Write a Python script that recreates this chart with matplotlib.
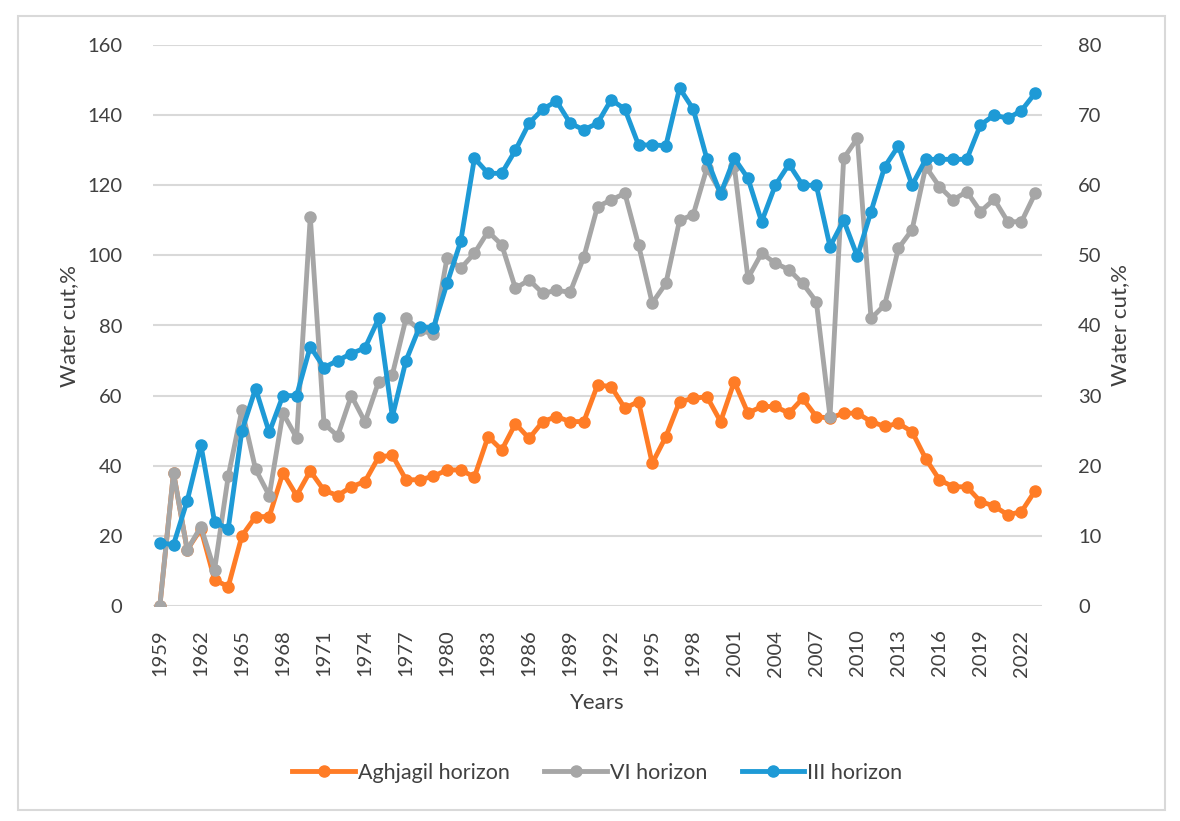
import matplotlib
matplotlib.use("Agg")
from matplotlib import pyplot as plt
from matplotlib.patches import Rectangle

years = list(range(1959, 2024))

aghjagil = [0, 38, 16, 22, 7.5, 5.5, 20, 25.5, 25.5, 38, 31.5, 38.5, 33, 31.5,
            34, 35.5, 42.5, 43, 36, 36, 37, 38.8, 38.8, 36.8, 48.3, 44.5, 52,
            47.8, 52.6, 54, 52.6, 52.6, 63, 62.6, 56.4, 58.3, 40.7, 48.3, 58.3,
            59.2, 59.7, 52.6, 64, 55, 56.9, 56.9, 55, 59.2, 54, 53.6, 55, 55,
            52.6, 51.2, 52.1, 49.7, 42, 36, 34, 34, 29.8, 28.5, 26, 26.9, 32.9]

vi_hor = [0, 38, 16, 22.6, 10.3, 37, 56, 39, 31.5, 55, 48, 111, 52, 48.5, 60,
          52.5, 64, 66, 82, 78.7, 77.5, 99.3, 96.3, 100.6, 106.8, 103, 90.6,
          93, 89.2, 90, 89.5, 99.5, 113.9, 115.8, 117.7, 103, 86.4, 92, 110,
          111.6, 124.9, 118, 125.5, 93.5, 100.6, 97.8, 95.9, 92, 86.8, 54,
          127.7, 133.4, 82, 85.9, 102, 107.3, 125.3, 119.6, 115.8, 118.2,
          112.5, 116, 109.6, 109.6, 117.7]

iii_hor = [18, 17.5, 30, 46, 24, 22, 50, 62, 49.5, 60, 60, 74, 68, 70, 72,
           73.6, 82, 54, 70, 79.7, 79.3, 92, 104, 127.7, 123.4, 123.4, 130,
           137.7, 141.7, 144, 137.7, 135.8, 137.7, 144.4, 141.7, 131.5, 131.5,
           131.3, 147.7, 141.7, 127.5, 117.5, 127.7, 122, 109.6, 120, 126, 120,
           120, 102.5, 110, 99.7, 112.5, 125.3, 131.2, 120, 127.4, 127.4,
           127.4, 127.4, 137.2, 140, 139.1, 141.3, 146.3]

plt.rcParams['font.family'] = ['Lato', 'DejaVu Sans']
txt = "#404040"

fig = plt.figure(figsize=(11.8, 8.21), dpi=100)
fig.patches.append(Rectangle((18 / 1180, 1 - 810 / 821), 1147 / 1180, 794 / 821,
                             transform=fig.transFigure, fill=False,
                             edgecolor="#D9D9D9", linewidth=1.5))
ax = fig.add_axes([153 / 1180, 1 - 606 / 821, 889 / 1180, 561 / 821])

ax.plot(years, aghjagil, color="#FF7C26", lw=3.5, marker="o", ms=8,
        label="Aghjagil horizon", zorder=3)
ax.plot(years, vi_hor, color="#A6A6A6", lw=3.5, marker="o", ms=8,
        label="VI horizon", zorder=4)
ax.plot(years, iii_hor, color="#1E9AD6", lw=3.5, marker="o", ms=8,
        label="III horizon", zorder=5)

ax.set_xlim(1958.5, 2023.5)
ax.set_ylim(0, 160)
ax.set_yticks(range(0, 161, 20))
ax.set_xticks(years[::3])
ax.set_xticklabels([str(y) for y in years[::3]], rotation=90)
ax.grid(axis="y", color="#D9D9D9", lw=1.5)
ax.set_axisbelow(True)
for s in ax.spines.values():
    s.set_visible(False)
ax.tick_params(axis="y", length=0, labelsize=14.5, colors=txt, pad=22)
ax.tick_params(axis="x", length=0, labelsize=14.5, colors=txt, pad=17)
ax.set_xlabel("Years", fontsize=16, color=txt, labelpad=12)
ax.set_ylabel("Water cut,%", fontsize=16, color=txt, labelpad=6)

ax2 = ax.twinx()
ax2.set_ylim(0, 80)
ax2.set_yticks(range(0, 81, 10))
for s in ax2.spines.values():
    s.set_visible(False)
ax2.tick_params(length=0, labelsize=14.5, colors=txt, pad=26)
ax2.set_ylabel("Water cut,%", fontsize=16, color=txt, labelpad=6)

leg = ax.legend(loc="upper center", bbox_to_anchor=(0.5, -0.245), ncol=3,
                frameon=False, fontsize=15.5, handlelength=2.9,
                columnspacing=1.6, handletextpad=0.15)
for t in leg.get_texts():
    t.set_color(txt)

fig.savefig("out.png", dpi=100)
